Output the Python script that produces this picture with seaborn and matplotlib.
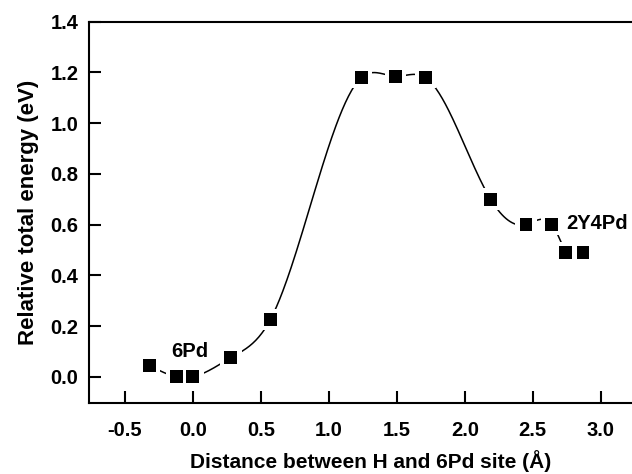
import numpy as np
import pandas as pd
import seaborn as sns
import matplotlib
matplotlib.use("Agg")
import matplotlib.pyplot as plt

# values
distance = [-0.32, -0.12, 0.0, 0.28, 0.57, 1.24, 1.49, 1.71, 2.19, 2.45, 2.64, 2.74, 2.87]
energy = [0.045, 0.0, 0.0, 0.075, 0.225, 1.18, 1.185, 1.18, 0.70, 0.60, 0.60, 0.49, 0.49]
n_curve = 12  # the guide curve runs through the first 12 points only
x_ticks = [-0.5, 0.0, 0.5, 1.0, 1.5, 2.0, 2.5, 3.0]
y_ticks = [0.0, 0.2, 0.4, 0.6, 0.8, 1.0, 1.2, 1.4]
labels = [("6Pd", -0.02, 0.098, "center"), ("2Y4Pd", 2.75, 0.605, "left")]

df = pd.DataFrame({"distance": distance, "energy": energy})


def natural_spline(xs, ys, num=400):
    # natural cubic spline through the points, only used to draw the guide line
    xs = np.asarray(xs, float)
    ys = np.asarray(ys, float)
    n = len(xs)
    h = np.diff(xs)
    A = np.zeros((n, n))
    b = np.zeros(n)
    A[0, 0] = A[-1, -1] = 1.0
    for i in range(1, n - 1):
        A[i, i - 1] = h[i - 1]
        A[i, i] = 2 * (h[i - 1] + h[i])
        A[i, i + 1] = h[i]
        b[i] = 6 * ((ys[i + 1] - ys[i]) / h[i] - (ys[i] - ys[i - 1]) / h[i - 1])
    m = np.linalg.solve(A, b)
    xx = np.linspace(xs[0], xs[-1], num)
    idx = np.clip(np.searchsorted(xs, xx) - 1, 0, n - 2)
    x0, x1 = xs[idx], xs[idx + 1]
    hh = x1 - x0
    t0, t1 = x1 - xx, xx - x0
    yy = (m[idx] * t0 ** 3 + m[idx + 1] * t1 ** 3) / (6 * hh) \
        + (ys[idx] / hh - m[idx] * hh / 6) * t0 \
        + (ys[idx + 1] / hh - m[idx + 1] * hh / 6) * t1
    return xx, yy


sns.set_theme(style="ticks")
plt.rcParams["font.family"] = ["Liberation Sans", "DejaVu Sans"]
plt.rcParams["font.weight"] = "bold"
for key in ["text.color", "axes.labelcolor", "xtick.color", "ytick.color", "axes.edgecolor"]:
    plt.rcParams[key] = "black"

fig = plt.figure(figsize=(6.32, 4.74), dpi=100)
ax = fig.add_axes([0.1416, 0.1504, 0.8627, 0.8038])

cx, cy = natural_spline(distance[:n_curve], energy[:n_curve])
sns.lineplot(x=cx, y=cy, ax=ax, color="black", linewidth=1.1, sort=False, estimator=None)

# white halo so the line stops short of each marker
sns.scatterplot(data=df, x="distance", y="energy", ax=ax, marker="s", s=240,
                color="white", edgecolor="none", zorder=3)
sns.scatterplot(data=df, x="distance", y="energy", ax=ax, marker="s", s=85,
                color="black", edgecolor="none", zorder=4)

for txt, tx, ty, ha in labels:
    ax.text(tx, ty, txt, ha=ha, va="center", fontsize=14.5, fontweight="bold")

ax.set_xlim(-0.76, 3.25)
ax.set_ylim(-0.1025, 1.4)
ax.set_xticks(x_ticks)
ax.set_yticks(y_ticks)
ax.set_xticklabels([f"{v:.1f}" for v in x_ticks])
ax.set_yticklabels([f"{v:.1f}" for v in y_ticks])
ax.tick_params(direction="in", length=8.5, width=1.5, labelsize=14.5)
ax.tick_params(axis="x", pad=13)
ax.tick_params(axis="y", pad=8)
for s in ax.spines.values():
    s.set_linewidth(1.5)
ax.spines["right"].set_visible(False)

ax.set_xlabel("Distance between H and 6Pd site (Å)", fontsize=15, fontweight="bold")
ax.set_ylabel("Relative total energy (eV)", fontsize=16, fontweight="bold", labelpad=8)
ax.xaxis.set_label_coords(0.515, -0.123)

fig.savefig("out.png", dpi=100)
